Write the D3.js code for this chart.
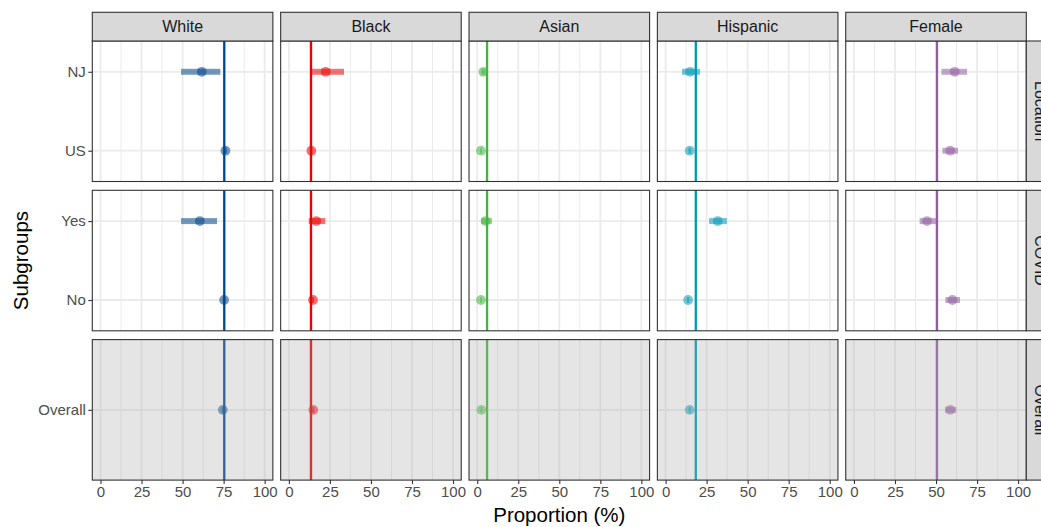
<!DOCTYPE html>
<html>
<head>
<meta charset="utf-8">
<script src="https://cdn.jsdelivr.net/npm/d3@7"></script>
<style>
  body { margin: 0; background: #fff; }
  svg { display: block; font-family: "Liberation Sans", Arial, sans-serif; }
</style>
</head>
<body>
<script>
// data
const groups = ["White", "Black", "Asian", "Hispanic", "Female"];
const facets = ["Location", "COVID", "Overall"];
const subgroups = ["NJ", "US", "Yes", "No", "Overall"];
const subFacet = ["Location", "Location", "COVID", "COVID", "Overall"];
const refLine = [75.4, 13.5, 6.0, 18.4, 50.6];

// [group][subgroup]
const estimate = [
  [61.7, 76.1, 60.5, 75.3, 74.5],
  [22.4, 13.7, 16.7, 14.7, 14.9],
  [3.7, 2.3, 5.1, 2.3, 2.5],
  [14.9, 14.7, 31.8, 13.7, 14.7],
  [61.4, 58.7, 44.5, 60.0, 58.7]
];
const lower = [
  [49.1, 75.2, 49.1, 74.5, 73.8],
  [13.9, 13.0, 12.1, 14.0, 14.2],
  [2.5, 1.8, 2.3, 1.8, 2.0],
  [10.0, 13.9, 26.5, 13.0, 14.0],
  [53.3, 53.9, 40.0, 55.7, 55.5]
];
const upper = [
  [73.0, 77.0, 71.0, 76.1, 75.2],
  [33.6, 14.4, 22.2, 15.4, 15.6],
  [5.0, 2.8, 9.0, 2.8, 3.0],
  [21.0, 15.5, 37.4, 14.4, 15.4],
  [68.9, 63.4, 50.4, 64.6, 62.4]
];
const xTicks = [0, 25, 50, 75, 100];

const colors = ["#00468B", "#ED0000", "#42B540", "#0099B4", "#925E9F"];

// layout
const W = 1041, H = 527;
const padL = 92.3, padR = 1026.3, padT = 41;
const colGap = 7.8, rowGap = 8.8, panelH = 140.5, stripH = 28.7;
const panelW = (padR - padL - colGap * (groups.length - 1)) / groups.length;

const svg = d3.select("body").append("svg")
    .attr("width", W)
    .attr("height", H);

const x = d3.scaleLinear().domain([-5, 105]).range([0, panelW]);

facets.forEach(function (facet, r) {
  const levels = subgroups.filter((s, i) => subFacet[i] === facet);
  const y = d3.scalePoint().domain(levels).range([0, panelH]).padding(0.39);
  if (levels.length === 1) y.padding(0.5);
  const py = padT + r * (panelH + rowGap);

  groups.forEach(function (g, c) {
    const px = padL + c * (panelW + colGap);
    const p = svg.append("g").attr("transform", "translate(" + px + "," + py + ")");

    p.append("rect").attr("width", panelW).attr("height", panelH).attr("fill", "#fff");

    // minor grid
    p.selectAll(".minor").data([12.5, 37.5, 62.5, 87.5]).enter().append("line")
      .attr("x1", d => x(d)).attr("x2", d => x(d))
      .attr("y1", 0).attr("y2", panelH)
      .attr("stroke", "#EBEBEB").attr("stroke-width", 1);
    // major grid
    p.selectAll(".major").data(xTicks).enter().append("line")
      .attr("x1", d => x(d)).attr("x2", d => x(d))
      .attr("y1", 0).attr("y2", panelH)
      .attr("stroke", "#EBEBEB").attr("stroke-width", 1.8);
    p.selectAll(".hgrid").data(levels).enter().append("line")
      .attr("x1", 0).attr("x2", panelW)
      .attr("y1", d => y(d)).attr("y2", d => y(d))
      .attr("stroke", "#EBEBEB").attr("stroke-width", 1.8);

    // reference line
    p.append("line")
      .attr("x1", x(refLine[c])).attr("x2", x(refLine[c]))
      .attr("y1", 0).attr("y2", panelH)
      .attr("stroke", colors[c]).attr("stroke-width", 2.3);

    const rows = levels.map(s => subgroups.indexOf(s));

    p.selectAll(".ci").data(rows).enter().append("rect")
      .attr("x", i => x(lower[c][i]))
      .attr("width", i => x(upper[c][i]) - x(lower[c][i]))
      .attr("y", i => y(subgroups[i]) - 3)
      .attr("height", 6)
      .attr("fill", colors[c]).attr("fill-opacity", 0.55);

    p.selectAll(".pt").data(rows).enter().append("circle")
      .attr("cx", i => x(estimate[c][i]))
      .attr("cy", i => y(subgroups[i]))
      .attr("r", 4.9)
      .attr("fill", colors[c]).attr("fill-opacity", 0.55);

    // overall row is shaded
    if (facet === "Overall") {
      p.append("rect").attr("width", panelW).attr("height", panelH)
        .attr("fill", "#a8a8a8").attr("fill-opacity", 0.3);
    }

    p.append("rect").attr("width", panelW).attr("height", panelH)
      .attr("fill", "none").attr("stroke", "#333").attr("stroke-width", 1.1);

    // top strips
    if (r === 0) {
      svg.append("rect")
        .attr("x", px).attr("y", padT - stripH)
        .attr("width", panelW).attr("height", stripH)
        .attr("fill", "#D9D9D9").attr("stroke", "#333").attr("stroke-width", 1.1);
      svg.append("text")
        .attr("x", px + panelW / 2).attr("y", padT - stripH / 2)
        .attr("dy", "0.35em").attr("text-anchor", "middle")
        .attr("font-size", 16).attr("fill", "#1A1A1A")
        .text(g);
    }

    // x axis at bottom
    if (r === facets.length - 1) {
      const ax = svg.append("g")
        .attr("transform", "translate(" + px + "," + (py + panelH) + ")")
        .call(d3.axisBottom(x).tickValues(xTicks).tickSize(4).tickPadding(2.5));
      ax.select(".domain").remove();
      ax.selectAll(".tick line").attr("stroke", "#333").attr("stroke-width", 1.1);
      ax.selectAll(".tick text").attr("font-size", 15).attr("fill", "#4D4D4D")
        .attr("font-family", "Liberation Sans, Arial, sans-serif");
    }
  });

  // y axis
  const ay = svg.append("g")
    .attr("transform", "translate(" + padL + "," + py + ")")
    .call(d3.axisLeft(y).tickSize(4).tickPadding(2.5));
  ay.select(".domain").remove();
  ay.selectAll(".tick line").attr("stroke", "#333").attr("stroke-width", 1.1);
  ay.selectAll(".tick text").attr("font-size", 15).attr("fill", "#4D4D4D")
    .attr("font-family", "Liberation Sans, Arial, sans-serif");

  // right strip
  svg.append("rect")
    .attr("x", padR).attr("y", py)
    .attr("width", stripH).attr("height", panelH)
    .attr("fill", "#D9D9D9").attr("stroke", "#333").attr("stroke-width", 1.1);
  svg.append("text")
    .attr("transform", "translate(" + (padR + stripH / 2) + "," + (py + panelH / 2) + ") rotate(90)")
    .attr("dy", "0.35em").attr("text-anchor", "middle")
    .attr("font-size", 16).attr("fill", "#1A1A1A")
    .text(facet);
});

// axis titles
svg.append("text")
  .attr("x", (padL + padR) / 2).attr("y", 522)
  .attr("text-anchor", "middle").attr("font-size", 20.5).attr("fill", "#000")
  .text("Proportion (%)");

svg.append("text")
  .attr("transform", "translate(28," + (padT + (3 * panelH + 2 * rowGap) / 2) + ") rotate(-90)")
  .attr("text-anchor", "middle").attr("font-size", 20.5).attr("fill", "#000")
  .text("Subgroups");
</script>
</body>
</html>
